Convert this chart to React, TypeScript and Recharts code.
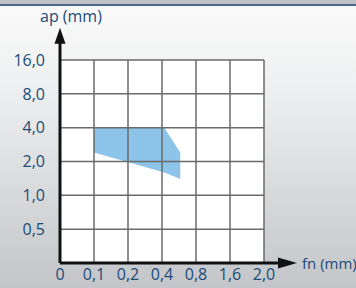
import { ComposedChart, Area, XAxis, YAxis, CartesianGrid, ReferenceLine, ReferenceDot } from 'recharts';

// axis ticks (each tick sits on one grid line, spacing is log2 between them)
const fnTicks = [0, 0.1, 0.2, 0.4, 0.8, 1.6, 2.0];
const fnLabels = ['0', '0,1', '0,2', '0,4', '0,8', '1,6', '2,0'];
const apTicks = [0.25, 0.5, 1, 2, 4, 8, 16];
const apLabels = ['', '0,5', '1,0', '2,0', '4,0', '8,0', '16,0'];

// application area: feed fn (mm) vs. depth of cut ap (mm)
const fnValues = [0.1, 0.42, 0.58];
const apMax = [4.0, 4.0, 2.4];
const apMin = [2.4, 1.6, 1.4];

const TEXT = '#1b4b78';
const FONT = '"Open Sans", sans-serif';

// value -> grid position (0..6)
const toPos = (v: number, ticks: number[]) => {
  for (let i = 0; i < ticks.length - 1; i++) {
    const a = ticks[i];
    const b = ticks[i + 1];
    if (v <= b) {
      if (a > 0) return i + Math.log(v / a) / Math.log(b / a);
      return i + (v - a) / (b - a);
    }
  }
  return ticks.length - 1;
};

const data = fnValues.map((f, i) => ({
  x: toPos(f, fnTicks),
  range: [toPos(apMin[i], apTicks), toPos(apMax[i], apTicks)],
}));

const steps = [1, 2, 3, 4, 5, 6];

const ArrowRight = (props: any) => {
  const { cx, cy } = props;
  return <polygon points={`${cx},${cy} ${cx - 19},${cy - 5.5} ${cx - 19},${cy + 5.5}`} fill="#111" />;
};

const ArrowUp = (props: any) => {
  const { cx, cy } = props;
  return <polygon points={`${cx},${cy} ${cx - 5.5},${cy + 16} ${cx + 5.5},${cy + 16}`} fill="#111" />;
};

const App = () => {
  return (
    <div
      style={{
        position: 'absolute',
        left: 0,
        top: 0,
        width: 356,
        height: 288,
        fontFamily: FONT,
        background:
          'linear-gradient(to bottom, #bfc1c4 0px, #bfc1c4 4px, #4a6785 4px, #4a6785 6px, #fafafa 6px, #eeeff0 90px, #c3c5c8 288px)',
      }}
    >
      <div style={{ position: 'absolute', left: 40, top: 5, fontSize: 16, color: TEXT }}>ap (mm)</div>
      <div style={{ position: 'absolute', left: 302, top: 253, fontSize: 15, color: TEXT, whiteSpace: 'nowrap' }}>fn (mm)</div>
      <ComposedChart width={356} height={288} data={data} margin={{ top: 60, right: 92, bottom: 0, left: 0 }}>
        <CartesianGrid horizontal={false} vertical={false} fill="#fff" fillOpacity={1} />
        <XAxis
          type="number"
          dataKey="x"
          domain={[0, 6]}
          ticks={[0, ...steps]}
          interval={0}
          tickFormatter={(i) => fnLabels[i]}
          axisLine={false}
          tickLine={false}
          height={25}
          tickSize={0}
          tickMargin={6}
          tick={{ fill: TEXT, fontSize: 16, fontFamily: FONT }}
        />
        <YAxis
          type="number"
          domain={[0, 6]}
          ticks={steps}
          interval={0}
          tickFormatter={(i) => apLabels[i]}
          axisLine={false}
          tickLine={false}
          width={60}
          tickSize={0}
          tickMargin={15}
          tick={{ fill: TEXT, fontSize: 16, fontFamily: FONT }}
        />
        <Area type="linear" dataKey="range" stroke="none" fill="#8cc4ea" fillOpacity={1} isAnimationActive={false} />
        {steps.map((s) => (
          <ReferenceLine key={'v' + s} x={s} stroke="#6a6a6a" strokeWidth={1.5} />
        ))}
        {steps.map((s) => (
          <ReferenceLine key={'h' + s} y={s} stroke="#6a6a6a" strokeWidth={1.5} />
        ))}
        <ReferenceLine segment={[{ x: 0, y: 0 }, { x: 6.5, y: 0 }]} stroke="#111" strokeWidth={3} ifOverflow="visible" />
        <ReferenceLine segment={[{ x: 0, y: 0 }, { x: 0, y: 6.5 }]} stroke="#111" strokeWidth={3} ifOverflow="visible" />
        <ReferenceDot x={6.97} y={0} ifOverflow="visible" shape={ArrowRight} />
        <ReferenceDot x={0} y={6.95} ifOverflow="visible" shape={ArrowUp} />
      </ComposedChart>
    </div>
  );
};

export default App;
